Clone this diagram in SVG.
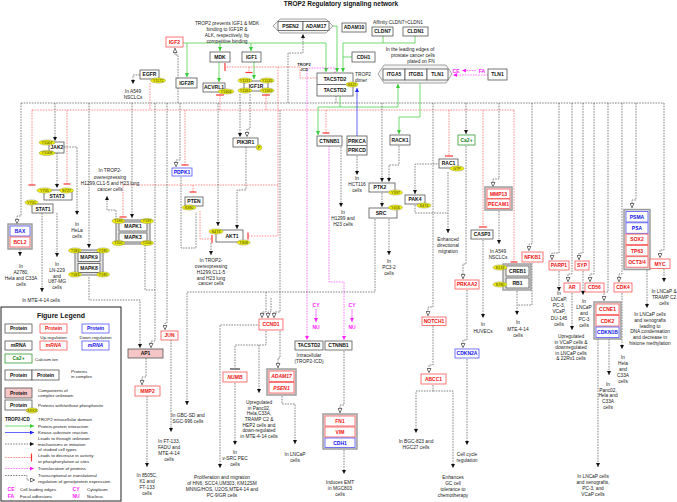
<svg xmlns="http://www.w3.org/2000/svg" width="677" height="502" viewBox="0 0 677 502">
<style>
text{font-family:"Liberation Sans",Arial,sans-serif}
.t{font-size:4.8px;fill:#222;text-anchor:middle}
.tl{font-size:4.8px;fill:#222}
.n{fill:#fff;stroke:#555;stroke-width:0.8}
.nr{fill:#fff;stroke:#f55;stroke-width:0.8}
.nu{fill:#fff;stroke:#55f;stroke-width:0.8}
.ng{fill:#fff;stroke:#393;stroke-width:0.8}
.np{fill:#f6c6c6;stroke:#555;stroke-width:0.8}
.cx{fill:#e4e4e4;stroke:#999;stroke-width:1.4}
.oc{fill:#f3f3f3;stroke:#999;stroke-width:0.9}
.lb{font-size:5px;font-weight:bold;text-anchor:middle;fill:#111}
.lr{font-size:5px;font-weight:bold;text-anchor:middle;fill:#e11}
.lu{font-size:5px;font-weight:bold;text-anchor:middle;fill:#11e}
.lg{font-size:5px;font-weight:bold;text-anchor:middle;fill:#282}
.li{font-size:5px;font-weight:bold;font-style:italic;text-anchor:middle;fill:#e11}
.lui{font-size:5px;font-weight:bold;font-style:italic;text-anchor:middle;fill:#11e}
.ph{fill:#ee0;stroke:#995;stroke-width:0.5}
.pt{font-size:3.8px;text-anchor:middle;fill:#333}
.bk{fill:none;stroke:#333;stroke-width:0.6;stroke-dasharray:1.6,1.1}
.rd{fill:none;stroke:#f44;stroke-width:0.6;stroke-dasharray:1.6,1.1}
.gr{fill:none;stroke:#3c3;stroke-width:0.7}
.bu{fill:none;stroke:#22f;stroke-width:0.7}
.pk{fill:none;stroke:#f2f;stroke-width:0.6;stroke-dasharray:1.6,1.1}
.bar{stroke:#f33;stroke-width:1.2}
.pkt{font-size:5px;font-weight:bold;fill:#f2f;text-anchor:middle}
</style>
<defs>
<marker id="ab" viewBox="0 0 6 6" refX="6" refY="3" markerWidth="4" markerHeight="4" orient="auto" markerUnits="userSpaceOnUse"><path d="M0,0L6,3L0,6z" fill="#111"/></marker>
<marker id="ao" viewBox="0 0 6 6" refX="6" refY="3" markerWidth="5" markerHeight="5" orient="auto" markerUnits="userSpaceOnUse"><path d="M0.6,0.6L5.4,3L0.6,5.4z" fill="#fff" stroke="#333" stroke-width="0.8"/></marker>
<marker id="ag" viewBox="0 0 6 6" refX="6" refY="3" markerWidth="4" markerHeight="4" orient="auto" markerUnits="userSpaceOnUse"><path d="M0,0L6,3L0,6z" fill="#3c3"/></marker>
<marker id="abu" viewBox="0 0 6 6" refX="6" refY="3" markerWidth="4" markerHeight="4" orient="auto" markerUnits="userSpaceOnUse"><path d="M0,0L6,3L0,6z" fill="#22f"/></marker>
<marker id="ap" viewBox="0 0 6 6" refX="6" refY="3" markerWidth="4" markerHeight="4" orient="auto" markerUnits="userSpaceOnUse"><path d="M0,0L6,3L0,6z" fill="#f2f"/></marker>
</defs>
<rect width="677" height="502" fill="#fff"/>
<text x="341" y="6" style="font-size:6.5px;font-weight:bold;text-anchor:middle;fill:#111">TROP2 Regulatory signaling network</text>

<g id="connectors">
<path class="bk" d="M21,103H664M336,96V103"/>
<path class="rd" d="M32,110H514"/>
<path class="gr" d="M183,43H326V72" marker-end="url(#ag)"/>
<path class="gr" d="M187,43V77" marker-end="url(#ag)"/>
<path class="gr" d="M220,43V51" marker-end="url(#ag)"/>
<path class="gr" d="M251,43V51" marker-end="url(#ag)"/>
<path class="gr" d="M219,62V82" marker-end="url(#ag)"/>
<path class="gr" d="M254,62V79" marker-end="url(#ag)"/>
<path class="gr" d="M383,36V43H343V72" marker-end="url(#ag)"/>
<path class="gr" d="M415,36V43H383M352,57H343"/>
<path class="gr" d="M333,26H337V72" marker-end="url(#ag)"/>
<path class="gr" d="M340,96V107H398V84" marker-end="url(#ag)"/>
<path class="gr" d="M340,107H318V135" marker-end="url(#ag)"/>
<path class="gr" d="M420,83V117H399V134" marker-end="url(#ag)"/>
<path class="bu" d="M357,136V88" marker-end="url(#abu)"/>
<path class="pk" d="M488,75H453" marker-end="url(#ap)"/>
<path class="pk" d="M476,70.5H462" marker-end="url(#ap)"/>
<path class="pk" d="M335,73V68H307V340" marker-end="url(#ap)"/>
<path class="pk" d="M329,146V282H344V340" marker-end="url(#ap)"/>
<path class="pk" d="M316,309V322" marker-end="url(#ap)" style="stroke-dasharray:none"/>
<path class="pk" d="M352,309V322" marker-end="url(#ap)" style="stroke-dasharray:none"/>
<path class="rd" d="M150,83V110"/>
<path class="rd" d="M32,110V185"/><line class="bar" x1="28.5" y1="185" x2="35.5" y2="185"/>
<path class="rd" d="M67,110V184"/><line class="bar" x1="63.5" y1="184" x2="70.5" y2="184"/>
<path class="rd" d="M317,78H300V67H226"/><line class="bar" x1="225" y1="63" x2="225" y2="71"/>
<path class="rd" d="M249,67V72"/><line class="bar" x1="245.5" y1="72.5" x2="252.5" y2="72.5"/>
<path class="rd" d="M220,95V110M266,95V110"/><line class="bar" x1="216" y1="95" x2="224" y2="95"/><line class="bar" x1="262" y1="95" x2="270" y2="95"/>
<path class="rd" d="M278,67V236H249"/><line class="bar" x1="248" y1="232.5" x2="248" y2="239.5"/>
<path class="rd" d="M278,185H123V217"/><line class="bar" x1="119.5" y1="217" x2="126.5" y2="217"/>
<path class="rd" d="M193,185V192"/><line class="bar" x1="189.5" y1="192" x2="196.5" y2="192"/>
<path class="rd" d="M185,110V165"/><line class="bar" x1="181.5" y1="165" x2="188.5" y2="165"/>
<path class="rd" d="M200,211V239H211"/><line class="bar" x1="212" y1="235" x2="212" y2="243"/>
<path class="rd" d="M326,110V133"/><line class="bar" x1="322.5" y1="133" x2="329.5" y2="133"/>
<path class="rd" d="M449,110V156"/><line class="bar" x1="445" y1="156" x2="453" y2="156"/>
<path class="rd" d="M483,110V227"/><line class="bar" x1="479" y1="227" x2="487" y2="227"/>
<path class="rd" d="M514,110V262"/><line class="bar" x1="510.5" y1="262" x2="517.5" y2="262"/>
<path class="bk" d="M140,75H133V84" marker-end="url(#ab)"/>
<path class="bk" d="M178,103V55H175V48" marker-end="url(#ao)"/>
<path class="bk" d="M288,103V53H303V34" marker-end="url(#ab)"/>
<path class="bk" d="M21,103V216H17V224" marker-end="url(#ao)"/>
<path class="bk" d="M55,103V141" marker-end="url(#ab)"/>
<path class="bk" d="M57,153V188" marker-end="url(#ab)"/>
<path class="bk" d="M64,147H77V215" marker-end="url(#ab)"/>
<path class="bk" d="M20,249V256" marker-end="url(#ab)"/>
<path class="bk" d="M57,213V257" marker-end="url(#ab)"/>
<path class="bk" d="M42,213V292" marker-end="url(#ab)"/>
<path class="bk" d="M89,103V248" marker-end="url(#ab)"/>
<path class="bk" d="M132,103V218" marker-end="url(#ab)"/>
<path class="bk" d="M116,220V210H107V196" marker-end="url(#ab)"/>
<path class="bk" d="M89,277V300H140V348" marker-end="url(#ab)"/>
<path class="bk" d="M155,103V341H151V348" marker-end="url(#ao)"/>
<path class="bk" d="M145,245V290H155"/>
<path class="bk" d="M167,103V323H165V330" marker-end="url(#ao)"/>
<path class="bk" d="M171,340V432" marker-end="url(#ab)"/>
<path class="bk" d="M146,358V377H142V385" marker-end="url(#ao)"/>
<path class="bk" d="M147,396V467" marker-end="url(#ab)"/>
<path class="bk" d="M180,103V160H176V167" marker-end="url(#ao)"/>
<path class="bk" d="M181,177V248H196V212"/>
<path class="bk" d="M218,103V226" marker-end="url(#ab)"/>
<path class="bk" d="M240,94V137" marker-end="url(#ab)"/>
<path class="bk" d="M250,94V129H247V137" marker-end="url(#ao)"/>
<path class="bk" d="M246,147V190H237V229" marker-end="url(#ab)"/>
<path class="bk" d="M211,243V255" marker-end="url(#ab)"/>
<path class="bk" d="M375,219V292H187V405" marker-end="url(#ab)"/>
<path class="bk" d="M266,292V312H262V318" marker-end="url(#ao)"/>
<path class="bk" d="M271,298V312H268V318" marker-end="url(#ao)"/>
<path class="bk" d="M280,110V312H274V318" marker-end="url(#ao)"/>
<path class="bk" d="M266,331V345H235V368"/>
<line x1="230" y1="369" x2="240" y2="369" stroke="#111" stroke-width="1"/>
<path class="bk" d="M259,345V393" marker-end="url(#ab)"/>
<path class="bk" d="M260,325H220V468" marker-end="url(#ab)"/>
<path class="bk" d="M280,331V358H278V368" marker-end="url(#ao)"/>
<path class="bk" d="M235,383V445" marker-end="url(#ab)"/>
<path class="bk" d="M282,396V404H295V444" marker-end="url(#ab)"/>
<path class="bk" d="M357,156V175" marker-end="url(#ab)"/>
<path class="bk" d="M341,147V207" marker-end="url(#ab)"/>
<path class="bk" d="M399,146V165H389V182" marker-end="url(#ab)"/>
<path class="bk" d="M382,103V182" marker-end="url(#ab)"/>
<path class="bk" d="M382,193V207" marker-end="url(#ab)"/>
<path class="bk" d="M389,219V255" marker-end="url(#ab)"/>
<path class="bk" d="M466,103V134" marker-end="url(#ab)"/>
<path class="bk" d="M440,164H415V194" marker-end="url(#ab)"/>
<path class="bk" d="M448,172V233" marker-end="url(#ab)"/>
<path class="bk" d="M415,205V213H448"/>
<path class="bk" d="M483,240V318" marker-end="url(#ab)"/>
<path class="bk" d="M499,103V179H493V187" marker-end="url(#ao)"/>
<path class="bk" d="M499,211V244" marker-end="url(#ab)"/>
<path class="bk" d="M466,146V264H463V279" marker-end="url(#ao)"/>
<path class="bk" d="M433,103V307H428V316" marker-end="url(#ao)"/>
<path class="bk" d="M433,326V365H429V373" marker-end="url(#ao)"/>
<path class="bk" d="M433,385V391H416V433" marker-end="url(#ab)"/>
<path class="bk" d="M433,391H453V468" marker-end="url(#ab)"/>
<path class="bk" d="M467,290V340H463V348" marker-end="url(#ao)"/>
<path class="bk" d="M467,359V445" marker-end="url(#ab)"/>
<path class="bk" d="M344,351V405H340V413" marker-end="url(#ao)"/>
<path class="bk" d="M344,450V474" marker-end="url(#ab)"/>
<path class="bk" d="M532,103V244H529V251" marker-end="url(#ao)"/>
<path class="bk" d="M532,263V305H517"/>
<path class="bk" d="M517,291V315" marker-end="url(#ab)"/>
<path class="bk" d="M559,103V253H552V260" marker-end="url(#ao)"/>
<path class="bk" d="M559,271V291" marker-end="url(#ab)"/>
<path class="bk" d="M572,103V274H568V282" marker-end="url(#ao)"/>
<path class="bk" d="M572,293V330" marker-end="url(#ab)"/>
<path class="bk" d="M583,103V253H579V260" marker-end="url(#ao)"/>
<path class="bk" d="M583,271V295" marker-end="url(#ab)"/>
<path class="bk" d="M594,103V274H590V282" marker-end="url(#ao)"/>
<path class="bk" d="M598,339V467" marker-end="url(#ab)"/>
<path class="bk" d="M608,103V292H604V301" marker-end="url(#ao)"/>
<path class="bk" d="M609,339V375" marker-end="url(#ab)"/>
<path class="bk" d="M622,103V274H619V282" marker-end="url(#ao)"/>
<path class="bk" d="M622,293V349" marker-end="url(#ab)"/>
<path class="bk" d="M636,103V200H632V208" marker-end="url(#ao)"/>
<path class="bk" d="M647,270V308" marker-end="url(#ab)"/>
<path class="bk" d="M664,103V250H660V258" marker-end="url(#ao)"/>
<path class="bk" d="M664,269V282" marker-end="url(#ab)"/>
</g>

<g id="n-igf2"><rect class="nr" x="166" y="37" width="17" height="10"/><text class="lr" x="174.5" y="43.8">IGF2</text></g>
<g id="n-egfr"><rect class="n" x="140" y="70" width="19" height="9"/><text class="lb" x="149.5" y="76.3">EGFR</text><ellipse class="ph" cx="158" cy="80.5" rx="7.5" ry="2.6"/><text class="pt" x="158" y="81.9">Y1172</text></g>
<g id="n-mdk"><rect class="n" x="210" y="52" width="20" height="10"/><text class="lb" x="220" y="58.8">MDK</text></g>
<g id="n-igf1"><rect class="n" x="242" y="52" width="19" height="10"/><text class="lb" x="251.5" y="58.8">IGF1</text></g>
<g id="n-igf2r"><rect class="n" x="176" y="78" width="21" height="10"/><text class="lb" x="186.5" y="84.8">IGF2R</text></g>
<g id="n-acvrl1"><rect class="n" x="203" y="83" width="22" height="9"/><text class="lb" x="214" y="89.3">ACVRL1</text><ellipse class="ph" cx="226" cy="91.5" rx="8" ry="2.6"/><text class="pt" x="226" y="92.9">Y1604</text></g>
<g id="n-igf1r"><rect class="n" x="244" y="81" width="24" height="10"/><text class="lb" x="256" y="87.8">IGF1R</text>
<ellipse class="ph" cx="245" cy="80.5" rx="7" ry="2.6"/><text class="pt" x="245" y="81.9">Y1131</text>
<ellipse class="ph" cx="267" cy="80.5" rx="7" ry="2.6"/><text class="pt" x="267" y="81.9">Y1135</text>
<ellipse class="ph" cx="245" cy="90.5" rx="7" ry="2.6"/><text class="pt" x="245" y="91.9">Y1161</text>
<ellipse class="ph" cx="267" cy="90.5" rx="7" ry="2.6"/><text class="pt" x="267" y="91.9">Y1165</text></g>
<g id="n-psen2-adam17"><polygon class="oc" points="280,19 326,19 333,26 326,33 280,33 273,26"/><rect class="n" x="278" y="21.5" width="25" height="9"/><text class="lb" x="290.5" y="27.8">PSEN2</text><rect class="n" x="303" y="21.5" width="26" height="9"/><text class="lb" x="316" y="27.8">ADAM17</text></g>
<g id="n-adam10"><rect class="n" x="342" y="23" width="24" height="9"/><text class="lb" x="354" y="29.3">ADAM10</text></g>
<g id="n-cldn7"><rect class="n" x="372" y="27" width="21" height="9"/><text class="lb" x="382.5" y="33.3">CLDN7</text></g>
<g id="n-cldn1"><rect class="n" x="403" y="27" width="25" height="9"/><text class="lb" x="415.5" y="33.3">CLDN1</text></g>
<g id="n-cdh1"><rect class="n" x="352" y="52" width="23" height="10"/><text class="lb" x="363.5" y="58.8">CDH1</text></g>
<g id="n-tacstd2"><rect class="n" x="317" y="73" width="36" height="23"/><line x1="317" y1="84.5" x2="353" y2="84.5" stroke="#555" stroke-width="0.8"/><text class="lb" x="335" y="80.8">TACSTD2</text><text class="lb" x="335" y="92.3">TACSTD2</text><ellipse class="ph" cx="352" cy="84.5" rx="6" ry="2.6"/><text class="pt" x="352" y="85.9">S322</text></g>
<g id="n-integrin"><polygon class="oc" points="384,65 446,65 452,74 446,83 384,83 378,74"/><rect class="n" x="383" y="69" width="22" height="11"/><text class="lb" x="394" y="76.3">ITGA5</text><rect class="n" x="405" y="69" width="22" height="11"/><text class="lb" x="416" y="76.3">ITGB1</text><rect class="n" x="427" y="69" width="21" height="11"/><text class="lb" x="437.5" y="76.3">TLN1</text></g>
<g id="n-tln1"><rect class="n" x="488" y="69" width="19" height="11"/><text class="lb" x="497.5" y="76.3">TLN1</text></g>

<g id="n-pik3r1"><rect class="n" x="233" y="138" width="25" height="9"/><text class="lb" x="245.5" y="144.3">PIK3R1</text><circle class="ph" cx="259" cy="147.5" r="2.8"/><text class="pt" x="259" y="149">P</text></g>
<g id="n-ctnnb1a"><rect class="n" x="317" y="136" width="25" height="10"/><text class="lb" x="329.5" y="142.8">CTNNB1</text></g>
<g id="n-prkc"><rect class="n" x="347" y="136" width="20" height="19"/><line x1="347" y1="145.5" x2="367" y2="145.5" stroke="#555" stroke-width="0.8"/><text class="lb" x="357" y="142.5">PRKCA</text><text class="lb" x="357" y="152">PRKCD</text></g>
<g id="n-rack1"><rect class="n" x="390" y="135" width="20" height="10"/><text class="lb" x="400" y="141.8">RACK1</text></g>
<g id="n-ca"><rect class="ng" x="458" y="135" width="17" height="10"/><text class="lg" x="466.5" y="141.8">Ca2+</text></g>
<g id="n-rac1"><rect class="n" x="439" y="159" width="19" height="9"/><text class="lb" x="448.5" y="165.3">RAC1</text><ellipse class="ph" cx="457" cy="168.5" rx="7" ry="2.6"/><text class="pt" x="457" y="169.9">GTP</text></g>
<g id="n-jak2"><rect class="n" x="49" y="142" width="15" height="11"/><text class="lb" x="57" y="149.3">JAK2</text><ellipse class="ph" cx="47" cy="142.5" rx="8" ry="2.6"/><text class="pt" x="47" y="143.9">Y1007</text><ellipse class="ph" cx="47" cy="153" rx="8" ry="2.6"/><text class="pt" x="47" y="154.4">Y1008</text></g>
<g id="n-stat3"><rect class="n" x="44" y="190" width="28" height="10"/><text class="lb" x="57" y="197.5">STAT3</text><ellipse class="ph" cx="44.5" cy="190.5" rx="7.5" ry="2.6"/><text class="pt" x="44.5" y="191.9">Y705</text><ellipse class="ph" cx="66.5" cy="190.5" rx="7" ry="2.6"/><text class="pt" x="66.5" y="191.9">S727</text></g>
<g id="n-stat1"><rect class="n" x="32" y="204" width="21" height="9"/><text class="lb" x="43" y="210.5">STAT1</text><ellipse class="ph" cx="31.5" cy="202.5" rx="6.5" ry="2.6"/><text class="pt" x="31.5" y="203.9">Y701</text></g>
<g id="n-bax-bcl2"><rect class="cx" x="8" y="224" width="24" height="25"/><rect class="nu" x="10" y="226" width="20" height="10"/><text class="lu" x="20" y="232.8">BAX</text><rect class="nr" x="10" y="237" width="20" height="10"/><text class="lr" x="20" y="243.8">BCL2</text></g>
<g id="n-mapk13"><rect class="cx" x="116" y="220" width="34" height="24"/><rect class="n" x="119" y="222" width="28" height="9"/><text class="lb" x="133" y="228.3">MAPK1</text><rect class="n" x="119" y="233" width="28" height="9"/><text class="lb" x="133" y="239.3">MAPK3</text>
<ellipse class="ph" cx="118.5" cy="221" rx="6.5" ry="2.6"/><text class="pt" x="118.5" y="222.4">T185</text><ellipse class="ph" cx="147" cy="221" rx="6.5" ry="2.6"/><text class="pt" x="147" y="222.4">Y187</text>
<ellipse class="ph" cx="118.5" cy="243" rx="6.5" ry="2.6"/><text class="pt" x="118.5" y="244.4">T202</text><ellipse class="ph" cx="147" cy="243" rx="6.5" ry="2.6"/><text class="pt" x="147" y="244.4">Y204</text></g>
<g id="n-mapk98"><rect class="cx" x="75" y="250" width="28" height="25"/><rect class="n" x="78" y="252.5" width="22" height="9"/><text class="lb" x="89" y="258.8">MAPK9</text><rect class="n" x="78" y="263.5" width="22" height="9"/><text class="lb" x="89" y="269.8">MAPK8</text>
<ellipse class="ph" cx="75" cy="250.5" rx="6.5" ry="2.6"/><text class="pt" x="75" y="251.9">T183</text><ellipse class="ph" cx="103" cy="250.5" rx="6.5" ry="2.6"/><text class="pt" x="103" y="251.9">Y185</text>
<ellipse class="ph" cx="75" cy="274.5" rx="6.5" ry="2.6"/><text class="pt" x="75" y="275.9">T183</text><ellipse class="ph" cx="103" cy="274.5" rx="6.5" ry="2.6"/><text class="pt" x="103" y="275.9">Y185</text></g>
<g id="n-pdpk1"><rect class="nu" x="172" y="168" width="20" height="8"/><text class="lu" x="182" y="173.8">PDPK1</text></g>
<g id="n-pten"><rect class="n" x="185" y="197" width="18" height="9"/><text class="lb" x="194" y="203.3">PTEN</text><ellipse class="ph" cx="189" cy="207.5" rx="7" ry="2.6"/><text class="pt" x="189" y="208.9">S380</text></g>
<g id="n-akt1"><rect class="n" x="216" y="230" width="27" height="12"/><text class="lb" x="232" y="238">AKT1</text><ellipse class="ph" cx="216" cy="231.5" rx="7" ry="2.6"/><text class="pt" x="216" y="232.9">S473</text><ellipse class="ph" cx="243.5" cy="242.5" rx="6.5" ry="2.6"/><text class="pt" x="243.5" y="243.9">T308</text></g>
<g id="n-ptk2"><rect class="n" x="369" y="183" width="26" height="9"/><text class="lb" x="380" y="189.3">PTK2</text><ellipse class="ph" cx="395.5" cy="192.5" rx="7" ry="2.6"/><text class="pt" x="395.5" y="193.9">Y397</text></g>
<g id="n-src"><rect class="n" x="369" y="208" width="28" height="10"/><text class="lb" x="381" y="214.8">SRC</text><ellipse class="ph" cx="395.5" cy="207.5" rx="7" ry="2.6"/><text class="pt" x="395.5" y="208.9">Y416</text></g>
<g id="n-pak4"><rect class="n" x="405" y="195" width="20" height="9"/><text class="lb" x="415" y="201.3">PAK4</text><ellipse class="ph" cx="424" cy="205.5" rx="7" ry="2.6"/><text class="pt" x="424" y="206.9">S474</text></g>
<g id="n-casp3"><rect class="n" x="471" y="230" width="22" height="9"/><text class="lb" x="482" y="236.3">CASP3</text></g>
<g id="n-mmp13"><rect class="cx" x="485" y="187" width="27" height="23"/><rect class="nr" x="487" y="189" width="23" height="9.5"/><text class="lr" x="498.5" y="195.6">MMP13</text><rect class="nr" x="487" y="199" width="23" height="9.5"/><text class="lr" x="498.5" y="205.6">PECAM1</text></g>
<g id="n-creb1"><rect class="cx" x="503" y="264" width="28" height="26"/><rect class="n" x="506" y="266" width="23" height="10"/><text class="lb" x="517.5" y="272.8">CREB1</text><rect class="n" x="506" y="278" width="23" height="10"/><text class="lb" x="517.5" y="284.8">RB1</text><ellipse class="ph" cx="500" cy="267.5" rx="7" ry="2.6"/><text class="pt" x="500" y="268.9">S133</text><ellipse class="ph" cx="500" cy="284.5" rx="7" ry="2.6"/><text class="pt" x="500" y="285.9">S780</text></g>
<g id="n-prkaa2"><rect class="nr" x="455" y="280" width="24" height="9"/><text class="lr" x="467" y="286.3">PRKAA2</text></g>
<g id="n-notch1"><rect class="nr" x="422" y="317" width="24" height="8.5"/><text class="lr" x="434" y="323.1">NOTCH1</text></g>
<g id="n-nfkb1"><rect class="nr" x="522" y="252" width="21" height="10"/><text class="lr" x="532.5" y="258.8">NFKB1</text></g>
<g id="n-parp1"><rect class="nr" x="549" y="261" width="20" height="9"/><text class="lr" x="559" y="267.3">PARP1</text></g>
<g id="n-syp"><rect class="nr" x="575" y="261" width="14" height="9"/><text class="lr" x="582" y="267.3">SYP</text></g>
<g id="n-ar"><rect class="nr" x="564" y="283" width="16" height="9"/><text class="lr" x="572" y="289.3">AR</text></g>
<g id="n-cd56"><rect class="nr" x="585" y="283" width="19" height="9"/><text class="lr" x="594.5" y="289.3">CD56</text></g>
<g id="n-cdk4"><rect class="nr" x="614" y="283" width="18" height="9"/><text class="lr" x="623" y="289.3">CDK4</text></g>
<g id="n-psma"><rect class="cx" x="624" y="209.5" width="26" height="60"/>
<rect class="nu" x="626" y="211.5" width="22" height="10.5"/><text class="lu" x="637" y="218.6">PSMA</text>
<rect class="nu" x="626" y="222.8" width="22" height="10.5"/><text class="lu" x="637" y="229.9">PSA</text>
<rect class="nr" x="626" y="234.1" width="22" height="10.5"/><text class="lr" x="637" y="241.2">SOX2</text>
<rect class="nr" x="626" y="245.4" width="22" height="10.5"/><text class="lr" x="637" y="252.5">TP63</text>
<rect class="nr" x="626" y="256.7" width="22" height="10.5"/><text class="lr" x="637" y="263.8">OCT3/4</text></g>
<g id="n-myc"><rect class="nr" x="650" y="259" width="20" height="9.5"/><text class="lr" x="660" y="265.5">MYC</text></g>
<g id="n-ccne1"><rect class="cx" x="594" y="302" width="27" height="37"/><rect class="nr" x="596" y="304" width="23" height="10.5"/><text class="lr" x="607.5" y="311.1">CCNE1</text><rect class="nr" x="596" y="315.5" width="23" height="10.5"/><text class="lr" x="607.5" y="322.6">CDK2</text><rect class="nu" x="596" y="327" width="23" height="10.5"/><text class="lu" x="607.5" y="334.1">CDKN1B</text></g>

<g id="n-ap1"><rect class="np" x="128" y="349" width="35" height="9"/><text class="lb" x="145.5" y="355.3">AP1</text></g>
<g id="n-jun"><rect class="nr" x="161" y="331" width="17" height="9"/><text class="lr" x="169.5" y="337.3">JUN</text></g>
<g id="n-mmp2"><rect class="nr" x="135" y="386" width="25" height="10"/><text class="lr" x="147.5" y="392.8">MMP2</text></g>
<g id="n-ccnd1"><rect class="nr" x="259" y="319" width="24" height="11"/><text class="lr" x="271" y="326.3">CCND1</text></g>
<g id="n-numb"><rect class="nr" x="223" y="372" width="24" height="10"/><text class="li" x="235" y="378.8">NUMB</text></g>
<g id="n-adam17b"><rect class="cx" x="267" y="369" width="29" height="26"/><rect class="nr" x="269" y="371" width="25" height="10.5"/><text class="li" x="281.5" y="378.1">ADAM17</text><rect class="nr" x="269" y="382.5" width="25" height="10.5"/><text class="li" x="281.5" y="389.6">PSEN1</text></g>
<g id="n-tacstd2b"><rect class="n" x="295" y="341" width="28" height="9"/><text class="lb" x="309" y="347.3">TACSTD2</text></g>
<g id="n-ctnnb1b"><rect class="n" x="325" y="341" width="27" height="9"/><text class="lb" x="338.5" y="347.3">CTNNB1</text></g>
<g id="n-fn1"><rect class="cx" x="323" y="414" width="34" height="35"/><rect class="nr" x="325" y="416" width="30" height="10"/><text class="lr" x="340" y="422.8">FN1</text><rect class="nr" x="325" y="427" width="30" height="10"/><text class="lr" x="340" y="433.8">VIM</text><rect class="nu" x="325" y="438" width="30" height="9.5"/><text class="lu" x="340" y="444.6">CDH1</text></g>
<g id="n-abcc1"><rect class="nr" x="421" y="374" width="25" height="10"/><text class="lr" x="433.5" y="380.8">ABCC1</text></g>
<g id="n-cdkn2a"><rect class="nu" x="455" y="349" width="24" height="9"/><text class="lu" x="467" y="355.3">CDKN2A</text></g>

<g id="labels">
<text class="t" x="227" y="25">TROP2 prevents IGF1 &amp; MDK</text>
<text class="t" x="227" y="31">binding to IGF1R &amp;</text>
<text class="t" x="227" y="37">ALK, respectively, by</text>
<text class="t" x="227" y="42.5">competitive binding</text>
<text x="304" y="66" style="font-size:4px;font-weight:bold;fill:#222;text-anchor:middle">TROP2</text>
<text x="304" y="71" style="font-size:4px;font-weight:bold;fill:#222;text-anchor:middle">-ICD</text>
<text class="t" x="398" y="24">Affinity:CLDN7&gt;CLDN1</text>
<text class="t" x="410" y="50.5">In the leading edges of</text>
<text class="t" x="413" y="56.5">prostate cancer cells</text>
<text class="t" x="421" y="62.5">plated on FN</text>
<text class="tl" x="355" y="76">TROP2</text>
<text class="tl" x="355" y="82">dimer</text>
<text class="pkt" x="456" y="72.5">CE</text>
<text class="pkt" x="482" y="72.5">FA</text>
<text class="t" x="133" y="93">In A549</text><text class="t" x="133" y="99">NSCLCs</text>
<text class="t" x="110" y="172">In TROP2-</text><text class="t" x="110" y="178.5">overexpressing</text><text class="t" x="110" y="185">H1299,CL1-5 and H23 lung</text><text class="t" x="110" y="191">cancer cells</text>
<text class="t" x="77" y="226">In</text><text class="t" x="77" y="232">HeLa</text><text class="t" x="77" y="238">cells</text>
<text class="t" x="21" y="268">In</text><text class="t" x="21" y="274">A2780,</text><text class="t" x="21" y="280">Hela and C33A</text><text class="t" x="21" y="286">cells</text>
<text class="t" x="57" y="266">In</text><text class="t" x="57" y="272">LN-229</text><text class="t" x="57" y="277.5">and</text><text class="t" x="57" y="283">U87-MG</text><text class="t" x="57" y="289">cells</text>
<text class="t" x="41" y="302">In MTE-4-14 cells</text>
<text class="t" x="211" y="262">In TROP2-</text><text class="t" x="211" y="268">overexpressing</text><text class="t" x="211" y="274">H1299,CL1-5</text><text class="t" x="211" y="279.5">and H23 lung</text><text class="t" x="211" y="285">cancer cells</text>
<text class="t" x="357" y="180">In</text><text class="t" x="357" y="186">HCT116</text><text class="t" x="357" y="192">cells</text>
<text class="t" x="343" y="214">In</text><text class="t" x="343" y="220">H1299 and</text><text class="t" x="343" y="226">H23 cells</text>
<text class="t" x="389" y="263">In</text><text class="t" x="389" y="269">PC3-2</text><text class="t" x="389" y="275">cells</text>
<text class="t" x="448" y="241">Enhanced</text><text class="t" x="448" y="247">directional</text><text class="t" x="448" y="253">migration</text>
<text class="t" x="498" y="253">In A549</text><text class="t" x="498" y="259">NSCLCs</text>
<text class="t" x="483" y="326">In</text><text class="t" x="483" y="332.5">HUVECs</text>
<text class="t" x="518" y="324">In</text><text class="t" x="518" y="330.5">MTE-4-14</text><text class="t" x="518" y="337">cells</text>
<text class="t" x="559" y="295">In</text><text class="t" x="559" y="301">LNCaP,</text><text class="t" x="559" y="307">PC-3,</text><text class="t" x="559" y="313">VCaP,</text><text class="t" x="559" y="319.5">DU-145</text><text class="t" x="559" y="326">cells</text>
<text class="t" x="584" y="303">In</text><text class="t" x="584" y="309">LNCaP</text><text class="t" x="584" y="315">and</text><text class="t" x="584" y="321">PC-3</text><text class="t" x="584" y="327">cells</text>
<text class="t" x="664" y="293">In LNCaP &amp;</text><text class="t" x="664" y="299">TRAMP C2</text><text class="t" x="664" y="305">cells</text>
<text class="t" x="650" y="316">In LNCaP cells</text><text class="t" x="650" y="322">and xenografts</text><text class="t" x="650" y="327.5">leading to</text><text class="t" x="650" y="333">DNA condensation</text><text class="t" x="650" y="339">and decrease in</text><text class="t" x="650" y="344.5">histone methylation</text>
<text class="t" x="571" y="338">Upregulated</text><text class="t" x="571" y="343.5">in VCaP cells &amp;</text><text class="t" x="571" y="349">downregulated</text><text class="t" x="571" y="354.5">in LNCaP cells</text><text class="t" x="571" y="360">&amp; 22Rv1 cells</text>
<text class="t" x="623" y="359">In</text><text class="t" x="623" y="365">Hela</text><text class="t" x="623" y="371">and</text><text class="t" x="623" y="377">C33A</text><text class="t" x="623" y="382.5">cells</text>
<text class="t" x="608" y="386">In</text><text class="t" x="608" y="391.5">Panc02,</text><text class="t" x="608" y="397">Hela and</text><text class="t" x="608" y="403">C33A</text><text class="t" x="608" y="409">cells</text>
<text class="t" x="593" y="478">In LNCaP cells</text><text class="t" x="593" y="484">and xenografts,</text><text class="t" x="593" y="490">PC-3, and</text><text class="t" x="593" y="495.5">VCaP cells</text>
<text class="t" x="309" y="357">Intracellular</text><text class="t" x="309" y="362.5">(TROP2-ICD)</text>
<text class="pkt" x="316" y="307">CY</text><text class="pkt" x="316" y="329">NU</text>
<text class="pkt" x="352" y="307">CY</text><text class="pkt" x="352" y="329">NU</text>
<text class="t" x="188" y="417">In GBC-SD and</text><text class="t" x="188" y="423">SGC-996 cells</text>
<text class="t" x="169" y="443">In FT-133,</text><text class="t" x="169" y="449">FADU and</text><text class="t" x="169" y="455">MTE-4-14</text><text class="t" x="169" y="461">cells</text>
<text class="t" x="147" y="477">In 8505C,</text><text class="t" x="147" y="483">K1 and</text><text class="t" x="147" y="489">FT-133</text><text class="t" x="147" y="494.5">cells</text>
<text class="t" x="259" y="404">Upregulated</text><text class="t" x="259" y="409.5">in Panc02,</text><text class="t" x="259" y="415">Hela,C33A,</text><text class="t" x="259" y="421">TRAMP C2 &amp;</text><text class="t" x="259" y="426.5">HEP2 cells and</text><text class="t" x="259" y="432">down-regulated</text><text class="t" x="259" y="437.5">in MTE-4-14 cells</text>
<text class="t" x="235" y="454">In</text><text class="t" x="235" y="460">v-SRC PEC</text><text class="t" x="235" y="465.5">cells</text>
<text class="t" x="295" y="456">In LNCaP</text><text class="t" x="295" y="461.5">cells</text>
<text class="t" x="222" y="479">Proliferation and migration</text><text class="t" x="222" y="485">of HN6, SCC4,UM303, KM12SM</text><text class="t" x="222" y="491">MNNG/HOS, U2OS,MTE4-14 and</text><text class="t" x="222" y="496.5">PC-9/GR cells</text>
<text class="t" x="340" y="484">Induces EMT</text><text class="t" x="340" y="490">in MGC803</text><text class="t" x="340" y="495.5">cells</text>
<text class="t" x="416" y="443">In BGC-823 and</text><text class="t" x="416" y="449">HGC27 cells</text>
<text class="t" x="467" y="456">Cell cycle</text><text class="t" x="467" y="462">regulation</text>
<text class="t" x="453" y="479">Enhances</text><text class="t" x="453" y="485">GC cell</text><text class="t" x="453" y="491">tolerance to</text><text class="t" x="453" y="496.5">chemotherapy</text>
</g>

<g id="legend">
<rect x="1" y="307" width="120" height="194" fill="#fff" stroke="#222" stroke-width="1"/>
<text x="61" y="318" style="font-size:7px;font-weight:bold;text-anchor:middle;fill:#111">Figure Legend</text>
<rect class="n" x="5" y="324" width="27" height="9"/><text class="lb" x="18.5" y="330.3">Protein</text>
<rect class="nr" x="40" y="324" width="27" height="9"/><text class="lr" x="53.5" y="330.3">Protein</text>
<rect class="nu" x="82" y="324" width="27" height="9"/><text class="lu" x="95.5" y="330.3">Protein</text>
<text class="t" x="53.5" y="339" style="font-size:4.4px">Up-regulation</text><text class="t" x="95.5" y="339" style="font-size:4.4px">Down-regulation</text>
<rect class="n" x="5" y="341" width="27" height="9"/><text class="lb" x="18.5" y="347.3">mRNA</text>
<rect class="nr" x="40" y="341" width="27" height="9"/><text class="li" x="53.5" y="347.3">mRNA</text>
<rect class="nu" x="82" y="341" width="27" height="9"/><text class="lui" x="95.5" y="347.3">mRNA</text>
<rect class="ng" x="5" y="354" width="27" height="9"/><text class="lg" x="18.5" y="360.3">Ca2+</text><text class="tl" x="35" y="360.5" style="font-size:4.4px">Calcium ion</text>
<rect class="n" x="5" y="370" width="27" height="10"/><text class="lb" x="18.5" y="376.8">Protein</text>
<rect class="n" x="32" y="370" width="27" height="10"/><text class="lb" x="45.5" y="376.8">Protein</text>
<text class="tl" x="71" y="372.5" style="font-size:4.4px">Proteins</text><text class="tl" x="71" y="378" style="font-size:4.4px">in complex</text>
<rect class="np" x="5" y="388" width="27" height="10"/><text class="lb" x="18.5" y="394.8">Protein</text>
<text class="tl" x="38" y="391.5" style="font-size:4.4px">Components of</text><text class="tl" x="38" y="397" style="font-size:4.4px">complex unknown</text>
<rect class="n" x="5" y="400" width="27" height="10"/><text class="lb" x="18.5" y="406.8">Protein</text>
<ellipse class="ph" cx="32" cy="410.5" rx="6" ry="2.6"/><text class="pt" x="32" y="411.9">XXXX</text>
<text class="tl" x="38" y="406.5" style="font-size:4.4px">Proteins with/without phosphosite</text>
<text x="5" y="421" style="font-size:4.6px;font-weight:bold;fill:#111">TROP2-ICD</text><text class="tl" x="38" y="421" style="font-size:4.4px">TROP2 intracellular domain</text>
<path class="gr" d="M5,426H34" marker-end="url(#ag)"/><text class="tl" x="38" y="427.5" style="font-size:4.4px">Protein-protein interaction</text>
<path class="bu" d="M5,432.5H34" marker-end="url(#abu)"/><text class="tl" x="38" y="434" style="font-size:4.4px">Kinase-substrate reaction</text>
<path class="bk" d="M5,444H34" marker-end="url(#ab)"/><text class="tl" x="38" y="440" style="font-size:4.4px">Leads to through unknown</text><text class="tl" x="38" y="445.5" style="font-size:4.4px">mechanisms or imitation</text><text class="tl" x="38" y="451" style="font-size:4.4px">of studied cell types</text>
<path class="rd" d="M5,457.5H31"/><line class="bar" x1="31.5" y1="453.5" x2="31.5" y2="461.5"/><text class="tl" x="38" y="457" style="font-size:4.4px">Leads to decrease in activity</text><text class="tl" x="38" y="462.5" style="font-size:4.4px">or phosphorylation at sites</text>
<path class="pk" d="M5,468.5H34" marker-end="url(#ap)"/><text class="tl" x="38" y="470" style="font-size:4.4px">Translocation of proteins</text>
<path class="bk" d="M5,475.5H27V480H35" marker-end="url(#ao)"/><text class="tl" x="38" y="477" style="font-size:4.4px">Transcriptional or translational</text><text class="tl" x="38" y="482.5" style="font-size:4.4px">regulation of gene/protein expression</text>
<text class="pkt" x="11" y="491">CE</text><text class="tl" x="20" y="491" style="font-size:4.4px">Cell leading edges</text>
<text class="pkt" x="76" y="491">CY</text><text class="tl" x="87" y="491" style="font-size:4.4px">Cytoplasm</text>
<text class="pkt" x="11" y="498">FA</text><text class="tl" x="20" y="498" style="font-size:4.4px">Focal adhesions</text>
<text class="pkt" x="76" y="498">NU</text><text class="tl" x="87" y="498" style="font-size:4.4px">Nucleus</text>
</g>
</svg>
